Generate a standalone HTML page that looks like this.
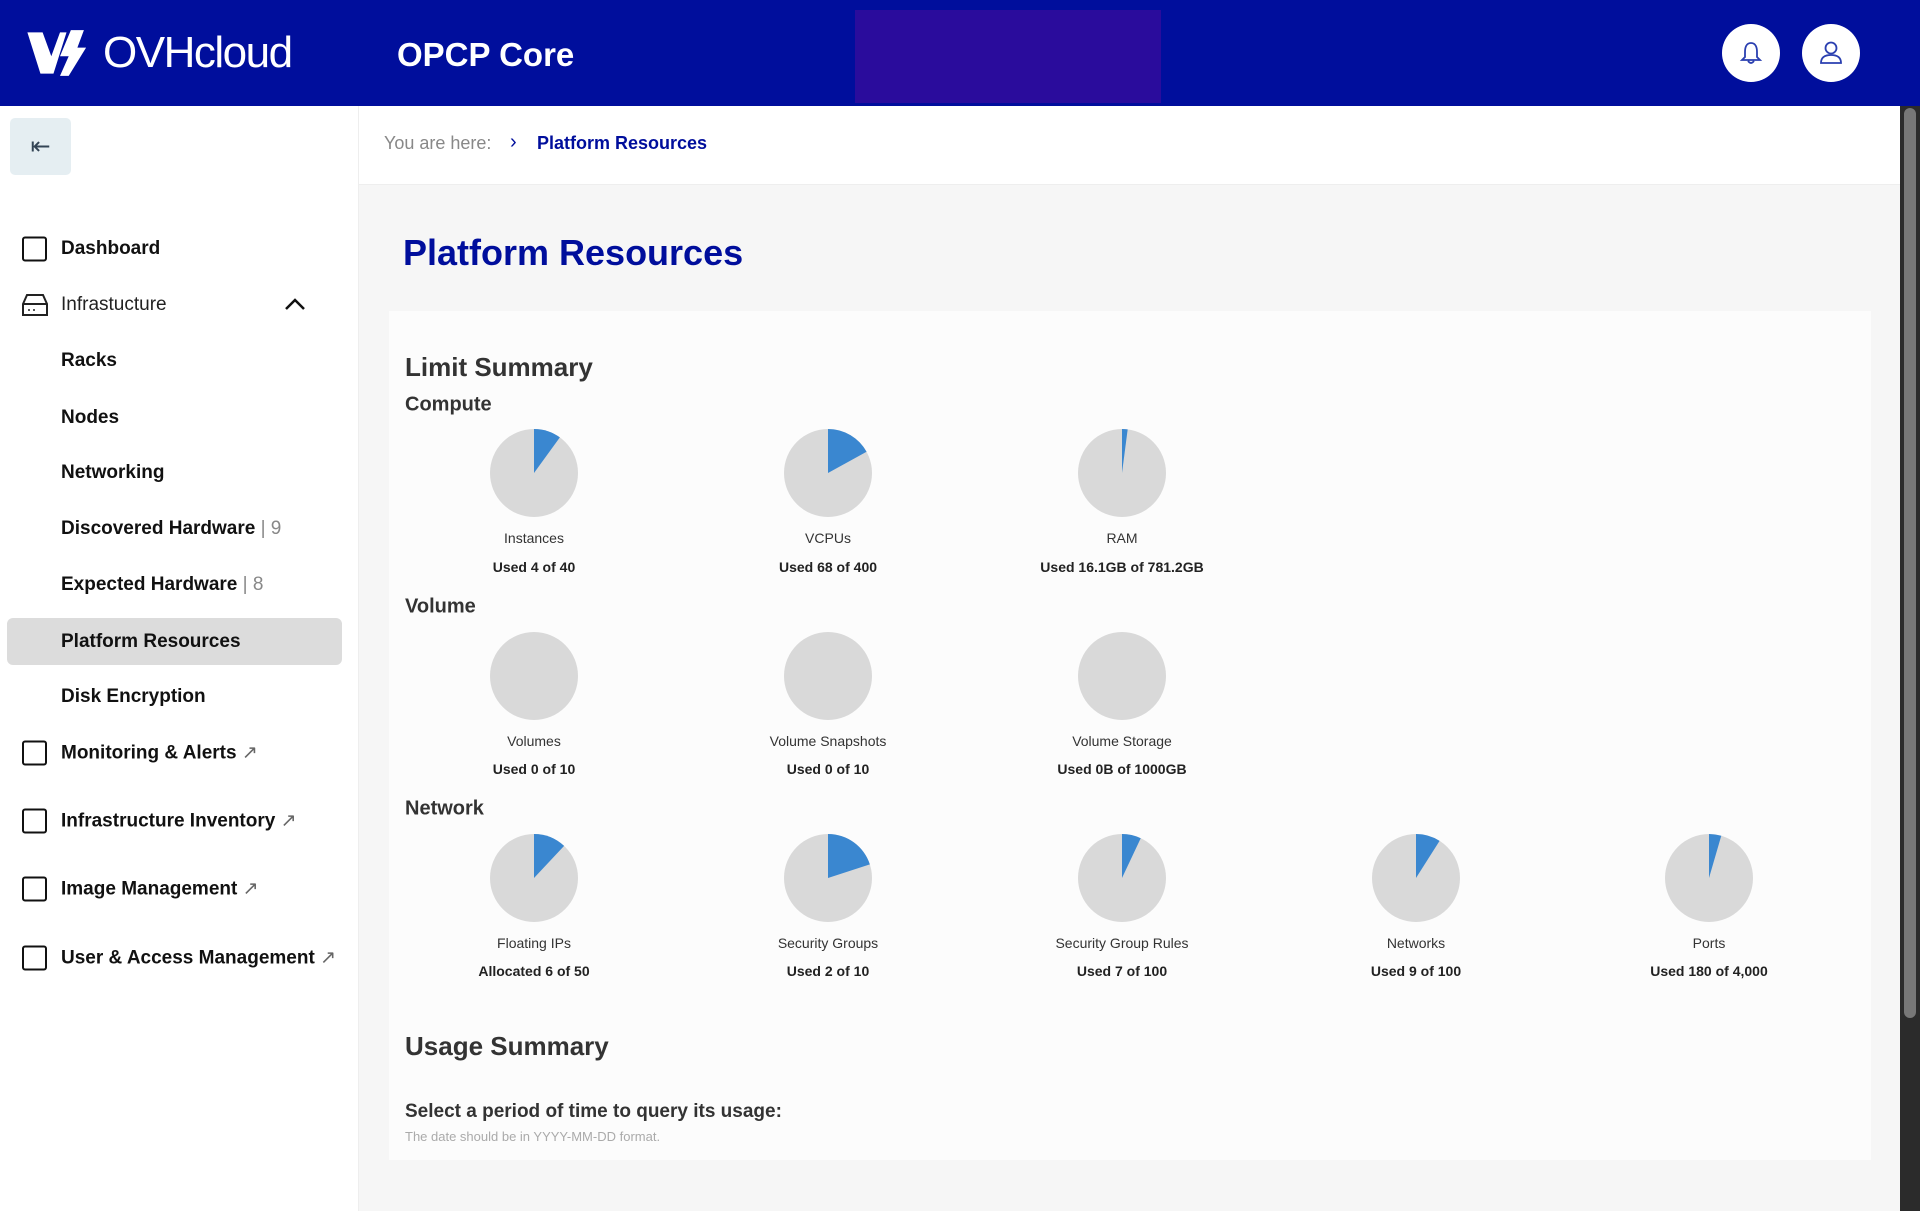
<!DOCTYPE html>
<html><head><meta charset="utf-8"><style>
*{margin:0;padding:0;box-sizing:border-box}
body{width:1920px;height:1211px;overflow:hidden;background:#f6f6f6;font-family:"Liberation Sans",sans-serif;position:relative;color:#222}
.a{position:absolute;white-space:nowrap}
.hdr{left:0;top:0;width:1920px;height:106px;background:#000e9c}
.side{left:0;top:106px;width:359px;height:1105px;background:#fff;border-right:1px solid #eee}
.bc{left:359px;top:106px;width:1541px;height:79px;background:#fff;border-bottom:1px solid #eee}
.nav{left:61px;font-size:19px;font-weight:bold;color:#111;transform:translateY(-50%)}
.cb{left:22px;width:25px;height:25px;border:2.5px solid #111;border-radius:3px;transform:translateY(-50%)}
.lbl{width:240px;text-align:center;font-size:14px;color:#333;transform:translate(-50%,-50%)}
.lbl2{width:240px;text-align:center;font-size:14px;color:#222;font-weight:600;transform:translate(-50%,-50%)}
.sec{left:405px;font-size:20px;font-weight:bold;color:#333;transform:translateY(-50%)}
.pipe{color:#888;font-weight:normal}
</style></head><body>
<div class="a hdr"></div>
<div class="a" style="left:855px;top:10px;width:306px;height:93px;background:#2a0c9c"></div>
<svg class="a" style="left:24px;top:28px" width="72" height="50" viewBox="0 0 60 46"><path d="M0 4 L14 4 L22 26 L30 4 L36 4 L24 42 L12 42 Z" fill="#fff"/><path d="M40 2 L52 2 L46 18 L54 18 L38 44 L30 44 L38 26 L30 26 Z" fill="#fff"/></svg>
<div class="a" style="left:103px;top:28px;font-size:44px;color:#fff;letter-spacing:-1.5px">OVHcloud</div>
<div class="a" style="left:397px;top:36px;font-size:33px;font-weight:bold;color:#fff">OPCP Core</div>
<div class="a" style="left:1722px;top:24px;width:58px;height:58px;border-radius:50%;background:#fff"></div>
<svg class="a" style="left:1737px;top:39px" width="28" height="28" viewBox="0 0 28 28"><path d="M14 4 C9 4 8 9 8 13 L8 18 L5 21 L23 21 L20 18 L20 13 C20 9 19 4 14 4Z M11 22 Q14 26 17 22" fill="none" stroke="#2a3fb0" stroke-width="1.8"/></svg>
<div class="a" style="left:1802px;top:24px;width:58px;height:58px;border-radius:50%;background:#fff"></div>
<svg class="a" style="left:1817px;top:39px" width="28" height="28" viewBox="0 0 28 28"><circle cx="14" cy="9" r="5.5" fill="none" stroke="#2a3fb0" stroke-width="1.8"/><path d="M4 24 Q4 16 14 16 Q24 16 24 24 Z" fill="none" stroke="#2a3fb0" stroke-width="1.8"/></svg>
<div class="a" style="left:1900px;top:106px;width:20px;height:1105px;background:#2b2b2b"></div>
<div class="a" style="left:1904px;top:108px;width:12px;height:910px;background:#777;border-radius:6px"></div>
<div class="a side"></div>
<div class="a bc"></div>
<div class="a" style="left:10px;top:118px;width:61px;height:57px;background:#e5eef2;border-radius:5px;font-size:24px;color:#345;text-align:center;line-height:57px">&#8676;</div>
<div class="a" style="left:384px;top:133px;font-size:18px;color:#888">You are here:</div>
<div class="a" style="left:510px;top:131px;font-size:20px;color:#000e9c">&#8250;</div>
<div class="a" style="left:537px;top:133px;font-size:18px;font-weight:bold;color:#000e9c">Platform Resources</div>

<div class="a cb" style="top:249px"></div><div class="a nav" style="top:249px">Dashboard</div>
<svg class="a" style="left:20px;top:292px" width="30" height="26" viewBox="0 0 30 26"><path d="M3 12 L7 3 L23 3 L27 12 L27 23 L3 23 Z M3 12 L27 12" fill="none" stroke="#222" stroke-width="2"/><circle cx="9" cy="18" r="1" fill="#222"/><circle cx="14" cy="18" r="1" fill="#222"/></svg>
<div class="a nav" style="top:305px;font-weight:normal;color:#222">Infrastucture</div>
<svg class="a" style="left:284px;top:296px" width="22" height="16" viewBox="0 0 22 16"><path d="M2 13 L11 4 L20 13" fill="none" stroke="#111" stroke-width="2.5"/></svg>
<div class="a nav" style="top:361px">Racks</div>
<div class="a nav" style="top:418px">Nodes</div>
<div class="a nav" style="top:473px">Networking</div>
<div class="a nav" style="top:529px">Discovered Hardware <span class="pipe">| 9</span></div>
<div class="a nav" style="top:585px">Expected Hardware <span class="pipe">| 8</span></div>
<div class="a" style="left:7px;top:618px;width:335px;height:47px;background:#dcdcdc;border-radius:6px"></div>
<div class="a nav" style="top:642px">Platform Resources</div>
<div class="a nav" style="top:697px">Disk Encryption</div>
<div class="a cb" style="top:753px"></div><div class="a nav" style="top:753px">Monitoring &amp; Alerts <span style="font-weight:normal;color:#666">&#8599;</span></div>
<div class="a cb" style="top:821px"></div><div class="a nav" style="top:821px">Infrastructure Inventory <span style="font-weight:normal;color:#666">&#8599;</span></div>
<div class="a cb" style="top:889px"></div><div class="a nav" style="top:889px">Image Management <span style="font-weight:normal;color:#666">&#8599;</span></div>
<div class="a cb" style="top:958px"></div><div class="a nav" style="top:958px">User &amp; Access Management <span style="font-weight:normal;color:#666">&#8599;</span></div>

<div class="a" style="left:403px;top:232px;font-size:36px;font-weight:bold;color:#000e9c">Platform Resources</div>
<div class="a" style="left:389px;top:311px;width:1482px;height:849px;background:#fcfcfc"></div>
<div class="a" style="left:405px;top:352px;font-size:26px;font-weight:bold;color:#333">Limit Summary</div>
<div class="a sec" style="top:405px">Compute</div>
<div class="a sec" style="top:607px">Volume</div>
<div class="a sec" style="top:809px">Network</div>

<svg class="a" style="left:0;top:0" width="1920" height="1211">
<g fill="#d9d9d9">
<circle cx="534" cy="473" r="44"/><circle cx="828" cy="473" r="44"/><circle cx="1122" cy="473" r="44"/>
<circle cx="534" cy="676" r="44"/><circle cx="828" cy="676" r="44"/><circle cx="1122" cy="676" r="44"/>
<circle cx="534" cy="878" r="44"/><circle cx="828" cy="878" r="44"/><circle cx="1122" cy="878" r="44"/><circle cx="1416" cy="878" r="44"/><circle cx="1709" cy="878" r="44"/>
</g>
<g fill="#3a87d0">
<path transform="translate(534,473)" d="M0 0 L0 -44 A44 44 0 0 1 25.86 -35.6 Z"/>
<path transform="translate(828,473)" d="M0 0 L0 -44 A44 44 0 0 1 38.56 -21.2 Z"/>
<path transform="translate(1122,473)" d="M0 0 L0 -44 A44 44 0 0 1 5.67 -43.64 Z"/>
<path transform="translate(534,878)" d="M0 0 L0 -44 A44 44 0 0 1 30.12 -32.08 Z"/>
<path transform="translate(828,878)" d="M0 0 L0 -44 A44 44 0 0 1 41.85 -13.6 Z"/>
<path transform="translate(1122,878)" d="M0 0 L0 -44 A44 44 0 0 1 18.73 -39.81 Z"/>
<path transform="translate(1416,878)" d="M0 0 L0 -44 A44 44 0 0 1 23.58 -37.15 Z"/>
<path transform="translate(1709,878)" d="M0 0 L0 -44 A44 44 0 0 1 12.28 -42.25 Z"/>
</g></svg>

<div class="a lbl" style="left:534px;top:538px">Instances</div><div class="a lbl2" style="left:534px;top:567px">Used 4 of 40</div>
<div class="a lbl" style="left:828px;top:538px">VCPUs</div><div class="a lbl2" style="left:828px;top:567px">Used 68 of 400</div>
<div class="a lbl" style="left:1122px;top:538px">RAM</div><div class="a lbl2" style="left:1122px;top:567px">Used 16.1GB of 781.2GB</div>
<div class="a lbl" style="left:534px;top:741px">Volumes</div><div class="a lbl2" style="left:534px;top:769px">Used 0 of 10</div>
<div class="a lbl" style="left:828px;top:741px">Volume Snapshots</div><div class="a lbl2" style="left:828px;top:769px">Used 0 of 10</div>
<div class="a lbl" style="left:1122px;top:741px">Volume Storage</div><div class="a lbl2" style="left:1122px;top:769px">Used 0B of 1000GB</div>
<div class="a lbl" style="left:534px;top:943px">Floating IPs</div><div class="a lbl2" style="left:534px;top:971px">Allocated 6 of 50</div>
<div class="a lbl" style="left:828px;top:943px">Security Groups</div><div class="a lbl2" style="left:828px;top:971px">Used 2 of 10</div>
<div class="a lbl" style="left:1122px;top:943px">Security Group Rules</div><div class="a lbl2" style="left:1122px;top:971px">Used 7 of 100</div>
<div class="a lbl" style="left:1416px;top:943px">Networks</div><div class="a lbl2" style="left:1416px;top:971px">Used 9 of 100</div>
<div class="a lbl" style="left:1709px;top:943px">Ports</div><div class="a lbl2" style="left:1709px;top:971px">Used 180 of 4,000</div>

<div class="a" style="left:405px;top:1031px;font-size:26px;font-weight:bold;color:#333">Usage Summary</div>
<div class="a" style="left:405px;top:1101px;font-size:19px;font-weight:bold;color:#333">Select a period of time to query its usage:</div>
<div class="a" style="left:405px;top:1129px;font-size:13px;color:#aaa">The date should be in YYYY-MM-DD format.</div>
</body></html>
